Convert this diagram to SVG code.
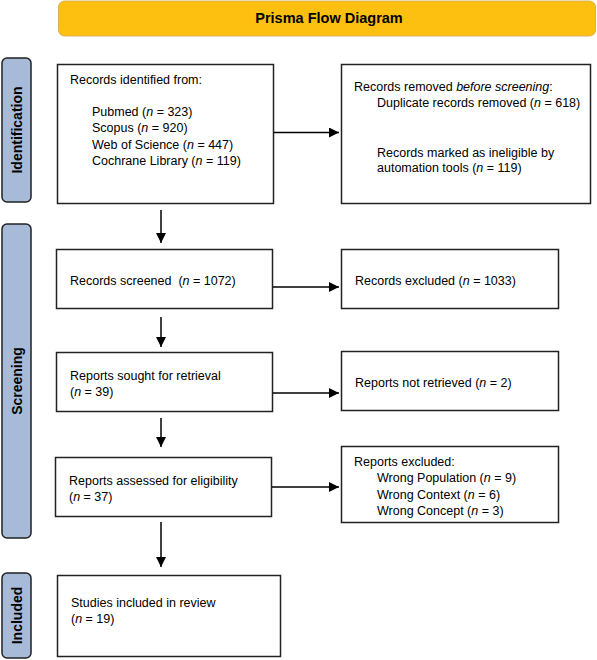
<svg xmlns="http://www.w3.org/2000/svg" width="597" height="660" viewBox="0 0 597 660">
<defs>
<marker id="ah" viewBox="0 0 10 10" refX="10" refY="5" markerWidth="10" markerHeight="10" markerUnits="userSpaceOnUse" orient="auto">
<path d="M0,0 L10,5 L0,10 z" fill="#000"/>
</marker>
<style>
text{font-family:"Liberation Sans",Arial,sans-serif;font-size:12.5px;fill:#000}
.box{fill:#fff;stroke:#222;stroke-width:1.5}
.side{fill:#a7bbd9;stroke:#222;stroke-width:1.5}
.side-t{font-weight:bold;font-size:14px;text-anchor:middle}
.title{fill:#fdc010;stroke:#d9b25a;stroke-width:1}
.conn{stroke:#000;stroke-width:1.5;fill:none;marker-end:url(#ah)}
</style>
</defs>
<g id="title">
<rect class="title" x="58.5" y="1" width="537" height="35" rx="6"/>
<text x="329" y="23" text-anchor="middle" font-weight="bold" style="font-size:14.5px">Prisma Flow Diagram</text>
</g>
<g id="side-identification">
<rect class="side" x="2" y="58" width="29" height="144" rx="5"/>
<text class="side-t" transform="translate(21.5,130) rotate(-90)">Identification</text>
</g>
<g id="side-screening">
<rect class="side" x="2" y="224" width="29" height="314" rx="5"/>
<text class="side-t" transform="translate(21.5,381) rotate(-90)">Screening</text>
</g>
<g id="side-included">
<rect class="side" x="2" y="573" width="29" height="85" rx="5"/>
<text class="side-t" transform="translate(21.5,615.5) rotate(-90)">Included</text>
</g>
<g id="identified">
<rect class="box" x="57.5" y="64.5" width="216" height="139"/>
<text x="70" y="84">Records identified from:</text>
<text x="92" y="116">Pubmed (<tspan font-style="italic">n</tspan> = 323)</text>
<text x="92" y="132">Scopus (<tspan font-style="italic">n</tspan> = 920)</text>
<text x="92" y="148.5">Web of Science (<tspan font-style="italic">n</tspan> = 447)</text>
<text x="92" y="164.5">Cochrane Library (<tspan font-style="italic">n</tspan> = 119)</text>
</g>
<g id="removed">
<rect class="box" x="341.5" y="64.5" width="249" height="139"/>
<text x="354" y="91">Records removed <tspan font-style="italic">before screening</tspan>:</text>
<text x="377" y="107">Duplicate records removed (<tspan font-style="italic">n</tspan> = 618)</text>
<text x="377" y="157">Records marked as ineligible by</text>
<text x="377" y="172">automation tools (<tspan font-style="italic">n</tspan> = 119)</text>
</g>
<g id="screened">
<rect class="box" x="56.5" y="249.5" width="216" height="59"/>
<text x="70" y="285">Records screened &#160;(<tspan font-style="italic">n</tspan> = 1072)</text>
</g>
<g id="excluded">
<rect class="box" x="341.5" y="249.5" width="217" height="59"/>
<text x="355" y="285">Records excluded (<tspan font-style="italic">n</tspan> = 1033)</text>
</g>
<g id="sought">
<rect class="box" x="56.5" y="352.5" width="216" height="59"/>
<text x="70" y="380">Reports sought for retrieval</text>
<text x="70" y="396">(<tspan font-style="italic">n</tspan> = 39)</text>
</g>
<g id="not-retrieved">
<rect class="box" x="341.5" y="351.5" width="217" height="59"/>
<text x="355" y="387">Reports not retrieved (<tspan font-style="italic">n</tspan> = 2)</text>
</g>
<g id="assessed">
<rect class="box" x="55.5" y="457.5" width="216" height="59"/>
<text x="69" y="485">Reports assessed for eligibility</text>
<text x="69" y="501">(<tspan font-style="italic">n</tspan> = 37)</text>
</g>
<g id="reports-excluded">
<rect class="box" x="341.5" y="446.5" width="217" height="76"/>
<text x="354" y="466">Reports excluded:</text>
<text x="377" y="482">Wrong Population (<tspan font-style="italic">n</tspan> = 9)</text>
<text x="377" y="498.5">Wrong Context (<tspan font-style="italic">n</tspan> = 6)</text>
<text x="377" y="515">Wrong Concept (<tspan font-style="italic">n</tspan> = 3)</text>
</g>
<g id="included">
<rect class="box" x="57.5" y="575.5" width="223" height="81"/>
<text x="71" y="607">Studies included in review</text>
<text x="71" y="623">(<tspan font-style="italic">n</tspan> = 19)</text>
</g>
<g id="connectors">
<line class="conn" x1="274" y1="132.5" x2="339" y2="132.5"/>
<line class="conn" x1="161" y1="210" x2="161" y2="243"/>
<line class="conn" x1="273" y1="287" x2="339" y2="287"/>
<line class="conn" x1="161" y1="317" x2="161" y2="347"/>
<line class="conn" x1="273" y1="393" x2="339" y2="393"/>
<line class="conn" x1="161" y1="418" x2="161" y2="447"/>
<line class="conn" x1="272" y1="487" x2="339" y2="487"/>
<line class="conn" x1="161" y1="522" x2="161" y2="567"/>
</g>
</svg>
